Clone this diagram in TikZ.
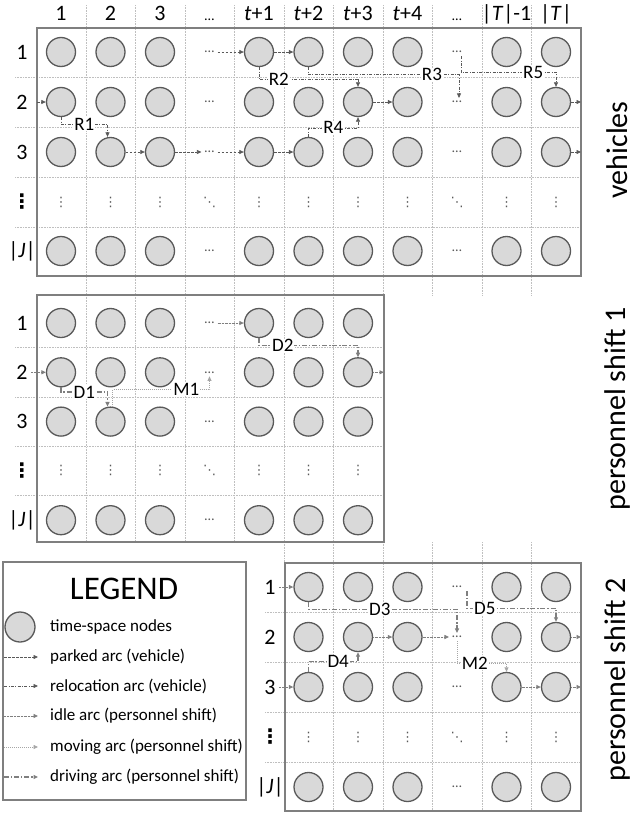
\documentclass[tikz,border=0pt]{standalone}
\usepackage{fontspec}
\setmainfont{Carlito}
\newfontfamily\dotsfont{DejaVu Sans}
\usetikzlibrary{arrows.meta}

\definecolor{nodefill}{HTML}{D9D9D9}
\definecolor{nodeline}{HTML}{595959}
\definecolor{arcdark}{HTML}{595959}
\definecolor{arcmid}{HTML}{7F7F7F}
\definecolor{arclight}{HTML}{A6A6A6}
\definecolor{gridgray}{HTML}{BFBFBF}
\definecolor{boxgray}{HTML}{7F7F7F}

\tikzset{
  tsnode/.style={circle, draw=nodeline, fill=nodefill, line width=1.3pt, minimum size=29pt, inner sep=0pt},
  gapdots/.style={text=arcdark, inner sep=3pt, font=\fontsize{14}{16}\selectfont},
  vgapdots/.style={text=arcdark, inner sep=2pt, font=\dotsfont\fontsize{13}{15}\selectfont},
  headlabel/.style={anchor=base, inner sep=0pt, font=\fontsize{22}{26}\selectfont},
  rowlabel/.style={inner sep=0pt, font=\fontsize{22}{26}\selectfont},
  rowdots/.style={inner sep=0pt, font=\dotsfont\bfseries\fontsize{20}{22}\selectfont},
  sidelabel/.style={rotate=90, inner sep=0pt, font=\fontsize{30}{34}\selectfont},
  arclabel/.style={fill=white, inner sep=0.8pt, font=\fontsize{19}{21}\selectfont},
  gridline/.style={draw=gridgray, line width=0.6pt, dash pattern=on 0.8pt off 0.8pt},
  blockbox/.style={draw=boxgray, line width=1.5pt},
  arrowtip/.style={-{Triangle[length=4.5pt,width=4pt]}},
  parked/.style={arrowtip, draw=arcdark, line width=0.7pt, dash pattern=on 2.5pt off 1.5pt},
  relocation/.style={arrowtip, draw=arcdark, line width=0.7pt, dash pattern=on 3pt off 1.5pt on 0.8pt off 1.5pt},
  idle/.style={arrowtip, draw=arcmid, line width=0.9pt, dash pattern=on 0.8pt off 0.6pt},
  moving/.style={arrowtip, draw=arclight, line width=0.8pt, dash pattern=on 0.8pt off 1.2pt},
  driving/.style={arrowtip, draw=arcmid, line width=1.1pt, dash pattern=on 5pt off 1.8pt on 1.5pt off 1.8pt}
}

\begin{document}
\begin{tikzpicture}[x=1pt, y=-1pt]
\useasboundingbox (0,0) rectangle (636,814);

% dotted grid behind the three blocks
\foreach \k in {1,...,10} \draw[gridline] ({86.25+49.5*(\k-1)},5) -- ({86.25+49.5*(\k-1)},295);
\foreach \yy in {77,127,177,227} \draw[gridline] (15,\yy) -- (581,\yy);
\foreach \k in {1,...,6} \draw[gridline] ({86.25+49.5*(\k-1)},295) -- ({86.25+49.5*(\k-1)},542);
\foreach \yy in {347.5,397,446.5,495.5} \draw[gridline] (15,\yy) -- (384,\yy);
\foreach \k in {5,...,10} \draw[gridline] ({86.25+49.5*(\k-1)},542) -- ({86.25+49.5*(\k-1)},811);
\foreach \yy in {612,662,712,762} \draw[gridline] (265,\yy) -- (581,\yy);

\draw[blockbox] (37,28) rectangle (581,276);
\draw[blockbox] (37,295) rectangle (384,542);
\draw[blockbox] (285,563) rectangle (581,811);
\draw[blockbox] (3,562) rectangle (246,800);

% column headers
\foreach \c/\txt in {1/1, 2/2, 3/3, 4/{\fontsize{14}{16}\selectfont\ldots}, 5/\textit{t}+1, 6/\textit{t}+2, 7/\textit{t}+3, 8/\textit{t}+4, 9/{\fontsize{14}{16}\selectfont\ldots}, 10/|\textit{T}|-1, 11/|\textit{T}|}
  \node[headlabel] (h-\c) at ({61+49.5*(\c-1)},20) {\txt};

% vehicles
\foreach \r/\yy/\txt in {1/52/1, 2/102/2, 3/152/3, 5/251/|\textit{J}|}
  \node[rowlabel] (rv-\r) at (22,\yy) {\txt};
\node[rowdots] (rv-4) at (22,202) {⋮};
\foreach \r/\yy in {1/52, 2/102, 3/152, 5/251} {
  \foreach \c in {1,2,3,5,6,7,8,10,11}
    \node[tsnode] (v-\r-\c) at ({61+49.5*(\c-1)},\yy) {};
  \foreach \c in {4,9}
    \node[gapdots] (v-\r-\c) at ({61+49.5*(\c-1)},\yy) {\ldots};
}
\foreach \c in {1,2,3,5,6,7,8,10,11}
  \node[vgapdots] (v-4-\c) at ({61+49.5*(\c-1)},202) {⋮};
\foreach \c in {4,9}
  \node[vgapdots] (v-4-\c) at ({61+49.5*(\c-1)},202) {⋱};
\node[sidelabel] (side-v) at (617,150) {vehicles};

% personnel shift 1
\foreach \r/\yy/\txt in {1/323/1, 2/372.3/2, 3/421.6/3, 5/520.2/|\textit{J}|}
  \node[rowlabel] (ra-\r) at (22,\yy) {\txt};
\node[rowdots] (ra-4) at (22,470.9) {⋮};
\foreach \r/\yy in {1/323, 2/372.3, 3/421.6, 5/520.2} {
  \foreach \c in {1,2,3,5,6,7}
    \node[tsnode] (p-\r-\c) at ({61+49.5*(\c-1)},\yy) {};
  \node[gapdots] (p-\r-4) at (209.5,\yy) {\ldots};
}
\foreach \c in {1,2,3,5,6,7}
  \node[vgapdots] (p-4-\c) at ({61+49.5*(\c-1)},470.9) {⋮};
\node[vgapdots] (p-4-4) at (209.5,470.9) {⋱};
\node[sidelabel] (side-a) at (617,409) {personnel shift 1};

% personnel shift 2
\foreach \r/\yy/\txt in {1/587/1, 2/637/2, 3/687/3, 5/787/|\textit{J}|}
  \node[rowlabel] (rb-\r) at (270,\yy) {\txt};
\node[rowdots] (rb-4) at (270,737) {⋮};
\foreach \r/\yy in {1/587, 2/637, 3/687, 5/787} {
  \foreach \c in {6,7,8,10,11}
    \node[tsnode] (q-\r-\c) at ({61+49.5*(\c-1)},\yy) {};
  \node[gapdots] (q-\r-9) at (457,\yy) {\ldots};
}
\foreach \c in {6,7,8,10,11}
  \node[vgapdots] (q-4-\c) at ({61+49.5*(\c-1)},737) {⋮};
\node[vgapdots] (q-4-9) at (457,737) {⋱};
\node[sidelabel] (side-b) at (617,680) {personnel shift 2};

% free ends at the block edges
\coordinate (vin2) at (37,102);
\coordinate (vout2) at (581,102);
\coordinate (vout3) at (581,152);
\coordinate (pin2) at (31,372.3);
\coordinate (pout2) at (384,372.3);
\coordinate (qin1) at (279,587);
\coordinate (qin3) at (279,687);
\coordinate (qout2) at (581,637);
\coordinate (qout3) at (581,687);

% vehicle arcs
\draw[parked] (v-1-4) -- (v-1-5);
\draw[parked] (v-1-5) -- (v-1-6);
\draw[parked] (vin2) -- (v-2-1);
\draw[parked] (v-3-2) -- (v-3-3);
\draw[parked] (v-3-3) -- (v-3-4);
\draw[parked] (v-3-4) -- (v-3-5);
\draw[parked] (v-3-5) -- (v-3-6);
\draw[parked] (v-2-7) -- (v-2-8);
\draw[parked] (v-2-11) -- (vout2);
\draw[parked] (v-3-11) -- (vout3);
\draw[relocation] (v-2-1.south) -- ++(0,7) -| node[arclabel, pos=0.25] {R1} ([xshift=-3pt]v-3-2.north);
\draw[relocation] (v-1-5.south) -- ++(0,12.5) -| node[arclabel, pos=0.1] {R2} (v-2-7.north);
\draw[relocation] (v-1-6.south) -- ++(0,7.5) -| node[arclabel, pos=0.41] {R3} ([xshift=2pt]v-2-9.north);
\draw[relocation] ([xshift=4pt]v-1-9.south) -- ([xshift=4pt]v-1-9.south |- 0,72) -| node[arclabel, pos=0.38] {R5} (v-2-11.north);
\draw[relocation] (v-3-6.north) -- ++(0,-9) -| node[arclabel, pos=0.25] {R4} (v-2-7.south);

% shift 1 arcs
\draw[idle] (p-1-4) -- (p-1-5);
\draw[idle] (pin2) -- (p-2-1);
\draw[idle] (p-2-7) -- (pout2);
\draw[driving] (p-2-1.south) -- ++(0,4.5) -| node[arclabel, pos=0.25] {D1} ([xshift=-3pt]p-3-2.north);
\draw[moving] ([xshift=2pt]p-3-2.north) -- ++(0,-17) -| node[arclabel, pos=0.38] {M1} (p-2-4.south);
\draw[driving] (p-1-5.south) -- ++(0,7.5) -| node[arclabel, pos=0.12] {D2} (p-2-7.north);

% shift 2 arcs
\draw[idle] (qin1) -- (q-1-6);
\draw[idle] (q-2-7) -- (q-2-8);
\draw[idle] (q-2-8) -- (q-2-9);
\draw[idle] (q-2-11) -- (qout2);
\draw[idle] (qin3) -- (q-3-6);
\draw[idle] (q-3-10) -- (q-3-11);
\draw[idle] (q-3-11) -- (qout3);
\draw[driving] (q-1-6.south) -- ++(0,7) -| node[arclabel, pos=0.24] {D3} (q-2-9.north);
\draw[driving] ([xshift=10pt]q-1-9.south) -- ([xshift=10pt]q-1-9.south |- 0,608.5) -| node[arclabel, pos=0.1] {D5} (q-2-11.north);
\draw[driving] (q-3-6.north) -- ++(0,-10) -| node[arclabel, pos=0.3] {D4} (q-2-7.south);
\draw[moving] (q-2-9.south) -- (q-2-9.south |- 0,663) -| node[arclabel, pos=0.18] {M2} (q-3-10.north);

% legend
\node[font=\fontsize{33}{36}\selectfont] (lg-title) at (124,589) {LEGEND};
\node[tsnode, minimum size=30pt] (lg-c) at (20,627) {};
\foreach \n/\yy/\txt in {c/627/time-space nodes, p/657/parked arc (vehicle), r/686/relocation arc (vehicle), i/716/idle arc (personnel shift), m/747/moving arc (personnel shift), d/777/driving arc (personnel shift)}
  \node[anchor=west, inner sep=0pt, font=\fontsize{17}{19}\selectfont] (lg-\n-txt) at (50,\yy) {\txt};
\coordinate (lg-p-s) at (4,657);  \coordinate (lg-p-e) at (38,657);
\coordinate (lg-r-s) at (4,686);  \coordinate (lg-r-e) at (38,686);
\coordinate (lg-i-s) at (4,716);  \coordinate (lg-i-e) at (38,716);
\coordinate (lg-m-s) at (4,747);  \coordinate (lg-m-e) at (38,747);
\coordinate (lg-d-s) at (4,777);  \coordinate (lg-d-e) at (38,777);
\draw[parked] (lg-p-s) -- (lg-p-e);
\draw[relocation] (lg-r-s) -- (lg-r-e);
\draw[idle] (lg-i-s) -- (lg-i-e);
\draw[moving] (lg-m-s) -- (lg-m-e);
\draw[driving] (lg-d-s) -- (lg-d-e);
\end{tikzpicture}
\end{document}
